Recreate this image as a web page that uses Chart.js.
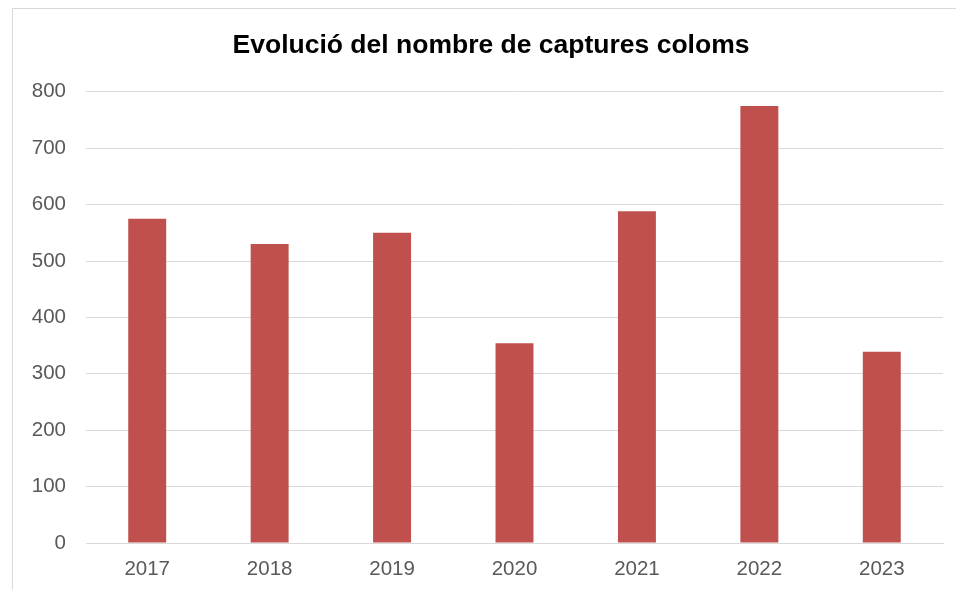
<!DOCTYPE html>
<html>
<head>
<meta charset="utf-8">
<script src="https://cdn.jsdelivr.net/npm/chart.js@4"></script>
<style>
  html, body { margin: 0; padding: 0; background: #fff; overflow: hidden; }
  #frame {
    position: absolute; left: 12px; top: 8px; width: 960px; height: 600px;
    border-top: 1px solid #d9d9d9; border-left: 1px solid #d9d9d9;
  }
  #wrap { position: absolute; left: 0; top: 0; width: 982px; height: 590px; }
</style>
</head>
<body>
<div id="frame"></div>
<div id="wrap"><canvas id="chart" width="982" height="590"></canvas></div>
<script>
// years and number of pigeon captures
const years = ["2017", "2018", "2019", "2020", "2021", "2022", "2023"];
const captures = [575, 530, 550, 354, 588, 775, 339];
const yTicks = [0, 100, 200, 300, 400, 500, 600, 700, 800];

const barColor = "#c0504d";
const tickColor = "#595959";
const gridColor = "#d9d9d9";
const fontFamily = "'Liberation Sans', Arial, sans-serif";

let canvas = document.getElementById("chart");

const chartConfig = {
  type: "bar",
  data: {
    labels: years,
    datasets: [
      {
        label: "Captures",
        data: captures,
        backgroundColor: barColor,
        borderWidth: 0,
        categoryPercentage: 1,
        barPercentage: 0.31,
      },
    ],
  },
  options: {
    responsive: false,
    animation: false,
    layout: {
      padding: { left: 0, right: 0, top: 0, bottom: 0 },
    },
    plugins: {
      legend: { display: false },
      tooltip: { enabled: false },
      title: {
        display: true,
        text: "Evolució del nombre de captures coloms",
        color: "#000000",
        font: { family: fontFamily, size: 26.5, weight: "bold" },
        padding: { top: 30, bottom: 30 },
      },
    },
    scales: {
      x: {
        afterFit: (scale) => {
          scale.height = 47;
        },
        grid: { display: false, drawTicks: false },
        border: { display: true, color: gridColor, width: 1 },
        ticks: {
          color: tickColor,
          padding: 14,
          font: { family: fontFamily, size: 20.5 },
        },
      },
      y: {
        min: 0,
        max: 800,
        afterFit: (scale) => {
          scale.width = 86;
        },
        afterBuildTicks: (scale) => {
          scale.ticks = yTicks.map((v) => ({ value: v }));
        },
        grid: { color: gridColor, lineWidth: 1, drawTicks: false },
        border: { display: false },
        ticks: {
          color: tickColor,
          padding: 20,
          font: { family: fontFamily, size: 20.5 },
        },
      },
      // empty right axis, only keeps space so the title sits centred like the original
      yRight: {
        position: "right",
        min: 0,
        max: 800,
        afterFit: (scale) => {
          scale.width = 39;
        },
        grid: { display: false, drawTicks: false },
        border: { display: false },
        ticks: { display: false },
      },
    },
  },
};

const myBarChart = new Chart(canvas, chartConfig);
</script>
</body>
</html>
